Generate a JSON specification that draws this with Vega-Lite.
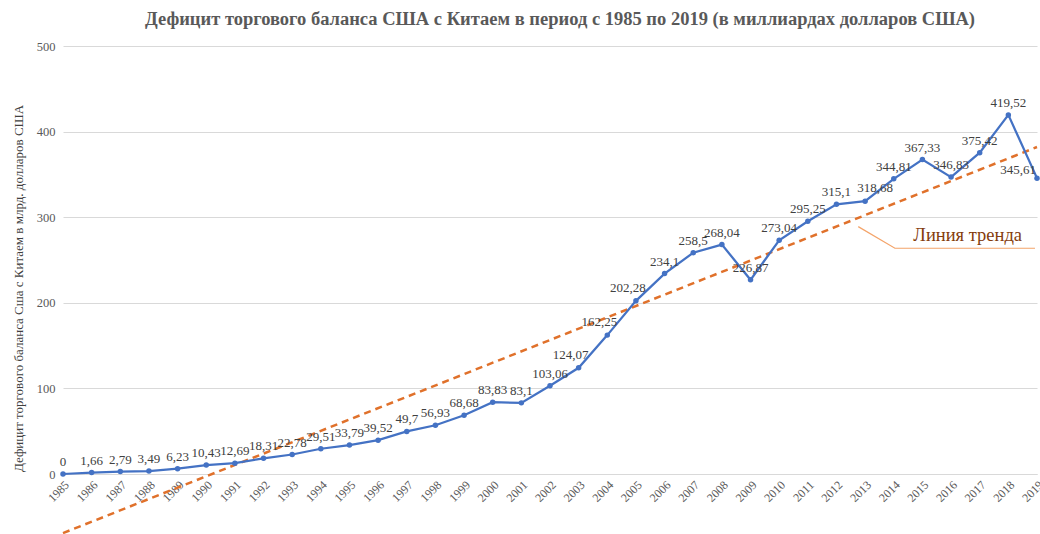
{
  "$schema": "https://vega.github.io/schema/vega-lite/v6.json",
  "width": 974,
  "height": 428,
  "autosize": {"type": "none"},
  "padding": {"left": 63, "top": 46, "right": 3, "bottom": 60},
  "background": "white",
  "title": {
    "text": "Дефицит торгового баланса США с Китаем в период с 1985 по 2019 (в миллиардах долларов США)",
    "font": "Liberation Serif",
    "fontSize": 18.5,
    "fontWeight": "bold",
    "color": "#595959",
    "anchor": "middle",
    "dx": 10,
    "offset": 12
  },
  "config": {
    "view": {"stroke": null},
    "axis": {"labelFont": "Liberation Serif", "titleFont": "Liberation Serif"}
  },
  "datasets": {
    "deficit": [
      {"year": 1985, "value": 0, "label": "0"},
      {"year": 1986, "value": 1.66, "label": "1,66"},
      {"year": 1987, "value": 2.79, "label": "2,79"},
      {"year": 1988, "value": 3.49, "label": "3,49"},
      {"year": 1989, "value": 6.23, "label": "6,23"},
      {"year": 1990, "value": 10.43, "label": "10,43"},
      {"year": 1991, "value": 12.69, "label": "12,69"},
      {"year": 1992, "value": 18.31, "label": "18,31"},
      {"year": 1993, "value": 22.78, "label": "22,78"},
      {"year": 1994, "value": 29.51, "label": "29,51"},
      {"year": 1995, "value": 33.79, "label": "33,79"},
      {"year": 1996, "value": 39.52, "label": "39,52"},
      {"year": 1997, "value": 49.7, "label": "49,7"},
      {"year": 1998, "value": 56.93, "label": "56,93"},
      {"year": 1999, "value": 68.68, "label": "68,68"},
      {"year": 2000, "value": 83.83, "label": "83,83"},
      {"year": 2001, "value": 83.1, "label": "83,1"},
      {"year": 2002, "value": 103.06, "label": "103,06"},
      {"year": 2003, "value": 124.07, "label": "124,07"},
      {"year": 2004, "value": 162.25, "label": "162,25"},
      {"year": 2005, "value": 202.28, "label": "202,28"},
      {"year": 2006, "value": 234.1, "label": "234,1"},
      {"year": 2007, "value": 258.5, "label": "258,5"},
      {"year": 2008, "value": 268.04, "label": "268,04"},
      {"year": 2009, "value": 226.87, "label": "226,87"},
      {"year": 2010, "value": 273.04, "label": "273,04"},
      {"year": 2011, "value": 295.25, "label": "295,25"},
      {"year": 2012, "value": 315.1, "label": "315,1"},
      {"year": 2013, "value": 318.68, "label": "318,68"},
      {"year": 2014, "value": 344.81, "label": "344,81"},
      {"year": 2015, "value": 367.33, "label": "367,33"},
      {"year": 2016, "value": 346.83, "label": "346,83"},
      {"year": 2017, "value": 375.42, "label": "375,42"},
      {"year": 2018, "value": 419.52, "label": "419,52"},
      {"year": 2019, "value": 345.61, "label": "345,61"}
    ],
    "trend": [
      {"year": 1985, "value": -69},
      {"year": 2019, "value": 382}
    ],
    "callout": [
      {"year": 2012.76, "value": 289, "order": 1},
      {"year": 2014.04, "value": 263.7, "order": 2},
      {"year": 2018.93, "value": 263.7, "order": 3}
    ],
    "note": [
      {"year": 2016.58, "value": 279, "text": "Линия тренда"}
    ]
  },
  "resolve": {"scale": {"x": "independent"}, "axis": {"x": "independent"}},
  "layer": [
    {
      "encoding": {
        "x": {
          "field": "year", "type": "ordinal",
          "scale": {"type": "point", "padding": 0},
          "axis": {
            "title": null,
            "labelAngle": -45,
            "labelFontSize": 12,
            "labelColor": "#595959",
            "labelPadding": 5,
            "labelDx": -3,
            "labelOverlap": false,
            "grid": false,
            "ticks": false,
            "domain": true,
            "domainColor": "#d9d9d9"
          }
        },
        "y": {
          "field": "value", "type": "quantitative",
          "scale": {"domain": [0, 500], "nice": false},
          "axis": {
            "title": "Дефицит торгового баланса Сша с Китаем в млрд. долларов США",
            "titleFontSize": 13,
            "titleFontWeight": "normal",
            "titleColor": "#404040",
            "titleAngle": -90,
            "titleX": -45,
            "titleY": 242,
            "titleAlign": "center",
            "titleBaseline": "middle",
            "values": [0, 100, 200, 300, 400, 500],
            "labelFontSize": 12.5,
            "labelColor": "#595959",
            "labelPadding": 8,
            "grid": true,
            "gridColor": "#d9d9d9",
            "domain": false,
            "ticks": false
          }
        }
      },
      "layer": [
        {
          "data": {"name": "trend"},
          "mark": {"type": "line", "color": "#e0712b", "strokeWidth": 2.5, "strokeDash": [7, 5], "clip": false}
        },
        {
          "data": {"name": "deficit"},
          "mark": {"type": "line", "color": "#4472c4", "strokeWidth": 2.25, "clip": false}
        },
        {
          "data": {"name": "deficit"},
          "mark": {"type": "circle", "color": "#4472c4", "size": 30, "opacity": 1, "clip": false}
        },
        {
          "data": {"name": "deficit"},
          "transform": [{"filter": "indexof([2003, 2004, 2005, 2013, 2019], datum.year) < 0"}],
          "mark": {"type": "text", "font": "Liberation Serif", "fontSize": 13, "color": "#404040", "baseline": "middle", "dy": -12},
          "encoding": {"text": {"field": "label"}}
        },
        {
          "data": {"name": "deficit"},
          "transform": [{"filter": "indexof([2003, 2004, 2005], datum.year) >= 0"}],
          "mark": {"type": "text", "font": "Liberation Serif", "fontSize": 13, "color": "#404040", "baseline": "middle", "dy": -13, "dx": -8},
          "encoding": {"text": {"field": "label"}}
        },
        {
          "data": {"name": "deficit"},
          "transform": [{"filter": "datum.year == 2013"}],
          "mark": {"type": "text", "font": "Liberation Serif", "fontSize": 13, "color": "#404040", "baseline": "middle", "dy": -13, "dx": 10},
          "encoding": {"text": {"field": "label"}}
        },
        {
          "data": {"name": "deficit"},
          "transform": [{"filter": "datum.year == 2019"}],
          "mark": {"type": "text", "font": "Liberation Serif", "fontSize": 13, "color": "#404040", "baseline": "middle", "dy": -8, "dx": -19},
          "encoding": {"text": {"field": "label"}}
        }
      ]
    },
    {
      "encoding": {
        "x": {
          "field": "year", "type": "quantitative",
          "scale": {"domain": [1985, 2019], "nice": false, "zero": false},
          "axis": null
        },
        "y": {"field": "value", "type": "quantitative"}
      },
      "layer": [
        {
          "data": {"name": "callout"},
          "mark": {"type": "line", "color": "#f4a46a", "strokeWidth": 1.2, "clip": false},
          "encoding": {"order": {"field": "order"}}
        },
        {
          "data": {"name": "note"},
          "mark": {"type": "text", "font": "Liberation Serif", "fontSize": 18.5, "color": "#843c0c", "baseline": "middle", "align": "center"},
          "encoding": {"text": {"field": "text"}}
        }
      ]
    }
  ]
}
